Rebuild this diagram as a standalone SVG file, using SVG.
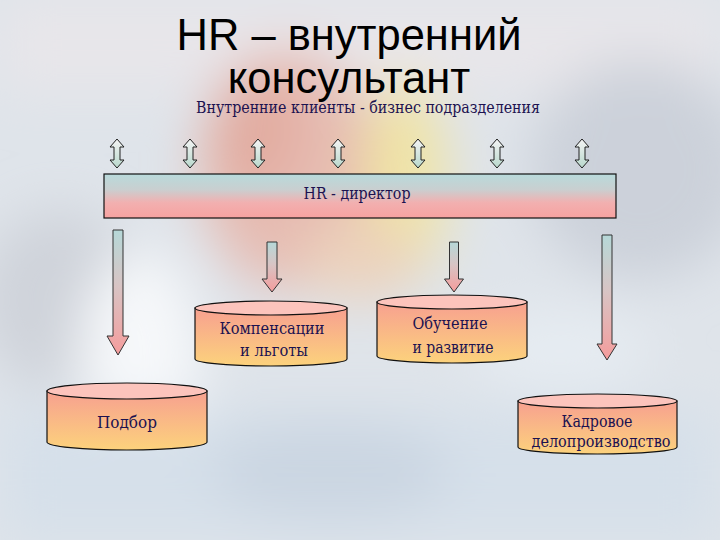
<svg xmlns="http://www.w3.org/2000/svg" xmlns:xlink="http://www.w3.org/1999/xlink" width="720" height="540" viewBox="0 0 720 540">
  <defs>
    <filter id="blur" x="-50%" y="-50%" width="200%" height="200%">
      <feGaussianBlur stdDeviation="26"/>
    </filter>
    <linearGradient id="gBar" x1="0" y1="0" x2="0" y2="1">
      <stop offset="0" stop-color="#b8dadb"/>
      <stop offset="0.35" stop-color="#c9cfd0"/>
      <stop offset="0.65" stop-color="#f2b0b0"/>
      <stop offset="1" stop-color="#f7a2a0"/>
    </linearGradient>
    <linearGradient id="gDown" x1="0" y1="0" x2="0" y2="1">
      <stop offset="0" stop-color="#b6d8d8"/>
      <stop offset="0.45" stop-color="#d8c4c4"/>
      <stop offset="1" stop-color="#f59c9c"/>
    </linearGradient>
    <linearGradient id="gDbl" x1="0" y1="0" x2="0" y2="1">
      <stop offset="0" stop-color="#f4f4f4"/>
      <stop offset="1" stop-color="#b8d8cc"/>
    </linearGradient>
    <linearGradient id="gCyl" x1="0" y1="0" x2="0" y2="1">
      <stop offset="0" stop-color="#f7a090"/>
      <stop offset="1" stop-color="#fcd27c"/>
    </linearGradient>
    <path id="dbl" d="M0,0 L7,8 L3,8 L3,21 L7,21 L0,29 L-7,21 L-3,21 L-3,8 L-7,8 Z"/>
    <style>
      .title { font-family: 'Liberation Sans', Arial, sans-serif; font-size: 43.5px; fill: #000; text-anchor: middle; }
      .lbl { font-family: 'DejaVu Serif', 'Liberation Serif', serif; font-size: 16px; fill: #1c1250; text-anchor: middle; }
      .dbl { fill: url(#gDbl); stroke: #222; stroke-width: 1; }
      .down { fill: url(#gDown); stroke: #333; stroke-width: 1; }
      .cylBody { fill: url(#gCyl); stroke: #111; stroke-width: 1.2; }
      .cylTop { fill: #fcc4bc; stroke: #111; stroke-width: 1.2; }
      .bar { fill: url(#gBar); stroke: #111; stroke-width: 1.2; }
    </style>
  </defs>

  <!-- background scene -->
  <rect x="0" y="0" width="720" height="540" fill="#dfe4ea"/>
  <g filter="url(#blur)">
    <rect x="0" y="0" width="720" height="90" fill="#e8e6ea"/>
    <ellipse cx="640" cy="170" rx="110" ry="110" fill="#ccd1da"/>
    <ellipse cx="60" cy="300" rx="80" ry="90" fill="#cfd3da"/>
    <ellipse cx="290" cy="170" rx="90" ry="120" fill="#e6bcb2"/>
    <ellipse cx="255" cy="130" rx="45" ry="65" fill="#e2aca0"/>
    <ellipse cx="405" cy="180" rx="42" ry="105" fill="#f0e4a6"/>
    <ellipse cx="360" cy="260" rx="60" ry="40" fill="#ecd2bc"/>
    <ellipse cx="140" cy="360" rx="60" ry="110" fill="#f6f8fa"/>
    <rect x="0" y="410" width="720" height="130" fill="#d6e0ea"/>
    <ellipse cx="330" cy="470" rx="120" ry="50" fill="#cbd6e2"/>
    <ellipse cx="560" cy="350" rx="90" ry="40" fill="#e6ecf2"/>
  </g>

  <!-- title texts -->
  <g id="title">
    <text class="title" x="349" y="50">HR – внутренний</text>
    <text class="title" x="349" y="93">консультант</text>
  </g>
  <g id="clients">
    <text class="lbl" x="368" y="113" textLength="344" lengthAdjust="spacingAndGlyphs">Внутренние клиенты - бизнес подразделения</text>
  </g>

  <!-- connectors -->
  <g id="connectors">
    <use href="#dbl" xlink:href="#dbl" class="dbl" x="117" y="139"/>
    <use href="#dbl" xlink:href="#dbl" class="dbl" x="190" y="139"/>
    <use href="#dbl" xlink:href="#dbl" class="dbl" x="258" y="139"/>
    <use href="#dbl" xlink:href="#dbl" class="dbl" x="338" y="139"/>
    <use href="#dbl" xlink:href="#dbl" class="dbl" x="418" y="139"/>
    <use href="#dbl" xlink:href="#dbl" class="dbl" x="497" y="139"/>
    <use href="#dbl" xlink:href="#dbl" class="dbl" x="582" y="139"/>

    <path class="down" d="M113,230 L123,230 L123,336 L129,336 L118,355 L107,336 L113,336 Z"/>
    <path class="down" d="M267,242 L277,242 L277,279 L282,279 L272,292 L262,279 L267,279 Z"/>
    <path class="down" d="M449.5,242 L458.5,242 L458.5,279 L463.5,279 L454,292 L444.5,279 L449.5,279 Z"/>
    <path class="down" d="M602,235 L612,235 L612,344 L617,344 L607,360 L597,344 L602,344 Z"/>
  </g>

  <!-- HR director -->
  <g id="hr-director">
    <rect class="bar" x="104" y="174" width="512" height="44"/>
    <text class="lbl" x="357" y="199" textLength="107" lengthAdjust="spacingAndGlyphs">HR - директор</text>
  </g>

  <!-- cylinders -->
  <g id="podbor">
    <path class="cylBody" d="M47,391 L47,442 A80,8 0 0 0 207,442 L207,391 Z"/>
    <ellipse class="cylTop" cx="127" cy="391" rx="80" ry="8"/>
    <text class="lbl" x="127" y="428" textLength="60" lengthAdjust="spacingAndGlyphs">Подбор</text>
  </g>

  <g id="kompensacii">
    <path class="cylBody" d="M195,308 L195,359 A76,7 0 0 0 347,359 L347,308 Z"/>
    <ellipse class="cylTop" cx="271" cy="308" rx="76" ry="7"/>
    <text class="lbl" x="272" y="334" textLength="105" lengthAdjust="spacingAndGlyphs">Компенсации</text>
    <text class="lbl" x="274" y="356" textLength="68" lengthAdjust="spacingAndGlyphs">и льготы</text>
  </g>

  <g id="obuchenie">
    <path class="cylBody" d="M377,302 L377,356 A75,7 0 0 0 527,356 L527,302 Z"/>
    <ellipse class="cylTop" cx="452" cy="302" rx="75" ry="7"/>
    <text class="lbl" x="450" y="329" textLength="75" lengthAdjust="spacingAndGlyphs">Обучение</text>
    <text class="lbl" x="453" y="353" textLength="81" lengthAdjust="spacingAndGlyphs">и развитие</text>
  </g>

  <g id="kadrovoe">
    <path class="cylBody" d="M518,401 L518,447 A79.5,7 0 0 0 677,447 L677,401 Z"/>
    <ellipse class="cylTop" cx="597.5" cy="401" rx="79.5" ry="7"/>
    <text class="lbl" x="597" y="427" textLength="71" lengthAdjust="spacingAndGlyphs">Кадровое</text>
    <text class="lbl" x="601" y="447" textLength="139" lengthAdjust="spacingAndGlyphs">делопроизводство</text>
  </g>
</svg>
